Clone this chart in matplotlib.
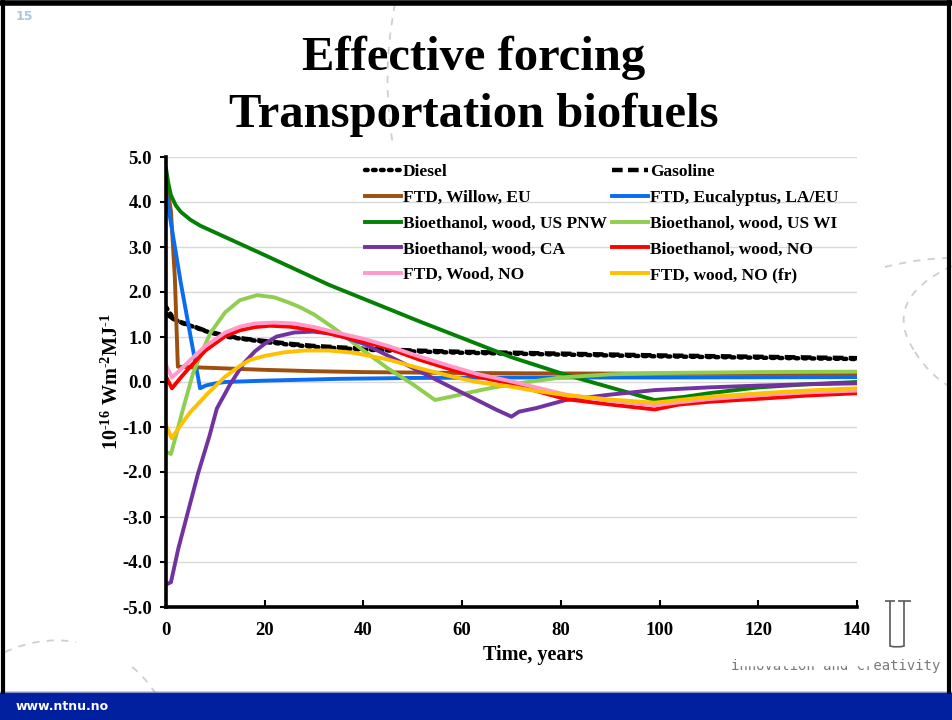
import matplotlib
matplotlib.use("Agg")
import matplotlib.pyplot as plt
from matplotlib.path import Path
from matplotlib.patches import PathPatch, Rectangle

plt.rcParams['font.family'] = ['Liberation Serif', 'DejaVu Serif']
plt.rcParams['mathtext.fontset'] = 'custom'
plt.rcParams['mathtext.rm'] = 'Liberation Serif:bold'
plt.rcParams['mathtext.bf'] = 'Liberation Serif:bold'
plt.rcParams['mathtext.it'] = 'Liberation Serif:bold'

# ---- data: effective forcing (10^-16 W m^-2 per MJ) versus time in years ----
diesel_t = [0, 1.5, 3, 5.5, 8, 12, 16, 20, 25, 30, 35, 40, 50, 60, 70, 80, 90, 100, 110, 120, 130, 140]
diesel_v = [1.67, 1.41, 1.32, 1.23, 1.13, 1.01, 0.95, 0.89, 0.83, 0.78, 0.75, 0.72, 0.68, 0.65,
            0.63, 0.61, 0.59, 0.57, 0.555, 0.54, 0.525, 0.51]

gasoline_t = [0, 1.5, 3, 5.5, 8, 12, 16, 20, 25, 30, 35, 40, 50, 60, 70, 80, 90, 100, 110, 120, 130, 140]
gasoline_v = [1.52, 1.40, 1.33, 1.24, 1.14, 1.03, 0.96, 0.91, 0.85, 0.80, 0.77, 0.74, 0.70, 0.67,
              0.65, 0.63, 0.61, 0.59, 0.575, 0.56, 0.545, 0.53]

willow_t = [0, 1, 1.8, 2.4, 5, 10, 20, 30, 40, 60, 80, 100, 120, 140]
willow_v = [4.5, 3.8, 2.3, 0.34, 0.33, 0.31, 0.27, 0.24, 0.22, 0.20, 0.19, 0.185, 0.18, 0.18]

eucal_t = [0, 3, 6.9, 8, 10, 12, 20, 35, 50, 70, 100, 140]
eucal_v = [4.2, 2.2, -0.14, -0.08, -0.03, 0.0, 0.03, 0.07, 0.09, 0.10, 0.10, 0.11]

pnw_t = [0, 0.5, 1, 2, 3, 5, 7, 10, 20, 33, 51.5, 70, 81, 99, 105, 110, 120, 130, 140]
pnw_v = [4.75, 4.4, 4.15, 3.92, 3.78, 3.6, 3.47, 3.32, 2.82, 2.16, 1.34, 0.55, 0.16, -0.40,
         -0.33, -0.25, -0.12, -0.05, 0.0]

wi_t = [0, 1, 2, 3.5, 5.5, 7, 9, 12, 15, 18.5, 22, 25, 27, 30, 34, 40, 45, 50, 54.5,
        58, 62, 66, 70, 80, 90, 100, 120, 140]
wi_v = [-1.55, -1.6, -1.2, -0.58, 0.2, 0.6, 1.09, 1.55, 1.82, 1.93, 1.88, 1.76, 1.67, 1.5,
        1.2, 0.7, 0.3, -0.05, -0.40, -0.32, -0.22, -0.13, -0.05, 0.1, 0.17, 0.2, 0.22, 0.23]

ca_t = [0, 1, 2.5, 4.2, 6.5, 8.8, 10.3, 13, 15.7, 18, 20, 22.4, 26, 29.8, 33, 36, 40, 43.4,
        48, 53.5, 58, 63, 67, 70, 71.5, 75, 81, 90, 99, 110, 120, 130, 140]
ca_v = [-4.5, -4.45, -3.7, -2.99, -2.03, -1.2, -0.59, -0.05, 0.41, 0.68, 0.85, 1.01, 1.1, 1.12,
        1.08, 1.0, 0.85, 0.67, 0.42, 0.12, -0.13, -0.4, -0.62, -0.77, -0.66, -0.58, -0.40,
        -0.28, -0.18, -0.12, -0.08, -0.05, -0.03]

no_t = [0, 1.2, 3, 5, 8, 12, 15, 18, 21, 25, 30, 33, 40, 45, 51.5, 58, 63, 69.7, 75, 81,
        90, 99, 104, 110, 122, 130, 140]
no_v = [0.12, -0.14, 0.1, 0.35, 0.7, 1.02, 1.15, 1.22, 1.25, 1.23, 1.15, 1.08, 0.9, 0.75,
        0.49, 0.27, 0.12, -0.03, -0.2, -0.38, -0.5, -0.61, -0.5, -0.44, -0.36, -0.3, -0.25]

wood_t = [0, 1.2, 3, 5, 8, 12, 15, 18, 22, 26, 30, 33, 40, 45, 51.5, 58, 63, 69.7, 75, 81,
          90, 99, 104, 110, 122, 130, 140]
wood_v = [0.38, 0.1, 0.28, 0.5, 0.8, 1.1, 1.23, 1.3, 1.32, 1.3, 1.22, 1.14, 0.96, 0.8, 0.56,
          0.34, 0.18, 0.02, -0.12, -0.28, -0.42, -0.52, -0.45, -0.38, -0.28, -0.23, -0.19]

fr_t = [0, 1.15, 3, 5, 8.5, 12, 15, 17, 20, 24, 28, 33, 38, 45, 51.5, 58, 63, 69.7, 75, 81,
        90, 99, 104, 110, 122, 130, 140]
fr_v = [-0.96, -1.25, -0.95, -0.66, -0.25, 0.12, 0.36, 0.49, 0.58, 0.66, 0.7, 0.7, 0.65, 0.5,
        0.3, 0.12, 0.0, -0.1, -0.2, -0.29, -0.39, -0.46, -0.4, -0.33, -0.24, -0.19, -0.14]

y_ticks = [-5, -4, -3, -2, -1, 0, 1, 2, 3, 4, 5]
x_ticks = [0, 20, 40, 60, 80, 100, 120, 140]

W, H = 952, 720
fig = plt.figure(figsize=(W / 100, H / 100), dpi=100)

# ---- slide background layer (pixel coordinates) ----
bg = fig.add_axes([0, 0, 1, 1], zorder=0)
bg.set_xlim(0, W)
bg.set_ylim(H, 0)
bg.axis('off')

dash_kw = dict(color='#cfcfcf', lw=1.3, ls=(0, (4, 4)))


def curve(ax, pts, **kw):
    codes = [Path.MOVETO] + [Path.CURVE3] * (len(pts) - 1)
    ax.add_patch(PathPatch(Path(pts, codes), fill=False, **kw))


curve(bg, [(395, 4), (381, 75), (393, 145)], **dash_kw)
curve(bg, [(885, 267), (920, 258), (952, 258)], **dash_kw)
curve(bg, [(952, 266), (880, 300), (915, 352)], **dash_kw)
curve(bg, [(915, 352), (930, 376), (952, 388)], **dash_kw)
curve(bg, [(5, 652), (40, 636), (76, 642)], **dash_kw)
curve(bg, [(132, 667), (150, 680), (172, 720)], **dash_kw)

# bottom bar
bg.add_patch(Rectangle((0, 692), W, 28, color='#00209f', zorder=1))
bg.plot([0, W], [691.5, 691.5], color='#8090c8', lw=0.8, zorder=1)
bg.text(16, 706, 'www.ntnu.no', color='white', fontsize=9, fontweight='bold',
        family='DejaVu Sans', va='center', ha='left', zorder=2)

# page number
bg.text(24, 16, '15', color='#a9c7e0', fontsize=9, fontweight='bold',
        family='DejaVu Sans', va='center', ha='center')

# logo mark and tagline
bg.text(940, 666, 'innovation and creativity', color='#7a7a7a', fontsize=10,
        family='DejaVu Sans Mono', va='center', ha='right', zorder=1)
bg.add_patch(Rectangle((740, 600), 132, 64.5, color='white', zorder=1.5))
u_path = Path([(885, 601), (895, 601), (890, 601), (890, 646), (897, 648), (904, 646),
               (904, 601), (898, 601), (911, 601)],
              [Path.MOVETO, Path.LINETO, Path.MOVETO, Path.LINETO, Path.CURVE3, Path.CURVE3,
               Path.LINETO, Path.MOVETO, Path.LINETO])
bg.add_patch(PathPatch(u_path, fill=False, color='#5a5a5a', lw=1.2, zorder=2))

# slide frame
bg.plot([3, 3], [2, 692], color='black', lw=3, zorder=3)
bg.plot([949, 949], [2, 692], color='black', lw=3, zorder=3)
bg.plot([2, 950], [2.5, 2.5], color='black', lw=4, zorder=3)

# title
fig.text(0.498, 1 - 58 / H, 'Effective forcing', ha='center', va='center',
         fontsize=35, fontweight='bold')
fig.text(0.498, 1 - 115 / H, 'Transportation biofuels', ha='center', va='center',
         fontsize=35, fontweight='bold')

# ---- chart ----
ax = fig.add_axes([166 / W, 1 - 607 / H, (857 - 166) / W, (607 - 157) / H], zorder=2)
ax.patch.set_alpha(0)

lw = 2.8
h_diesel, = ax.plot(diesel_t, diesel_v, color='black', lw=3.2, ls=(0, (0.6, 1.2)),
                    dash_capstyle='round', label='Diesel')
h_gas, = ax.plot(gasoline_t, gasoline_v, color='black', lw=3.2, ls=(0, (2.4, 1.2)),
                 label='Gasoline')
h_willow, = ax.plot(willow_t, willow_v, color='#9c4f0e', lw=lw, label='FTD, Willow, EU')
h_eucal, = ax.plot(eucal_t, eucal_v, color='#0a6cf0', lw=lw, label='FTD, Eucalyptus, LA/EU')
h_pnw, = ax.plot(pnw_t, pnw_v, color='#048004', lw=lw, label='Bioethanol, wood, US PNW')
h_wi, = ax.plot(wi_t, wi_v, color='#8fce50', lw=lw, label='Bioethanol, wood, US WI')
h_ca, = ax.plot(ca_t, ca_v, color='#7232a0', lw=lw, label='Bioethanol, wood, CA')
h_no, = ax.plot(no_t, no_v, color='#ff0000', lw=lw, label='Bioethanol, wood, NO')
h_wood, = ax.plot(wood_t, wood_v, color='#ff99cc', lw=lw, label='FTD, Wood, NO')
h_fr, = ax.plot(fr_t, fr_v, color='#ffc000', lw=lw, label='FTD, wood, NO (fr)')

ax.set_xlim(0, 140)
ax.set_ylim(-5, 5)
ax.set_xticks(x_ticks)
ax.set_yticks(y_ticks)
ax.set_yticklabels([f'{v:.1f}' for v in y_ticks])
ax.set_xticklabels([str(v) for v in x_ticks])
ax.grid(axis='y', color='#d9d9d9', lw=1.0)
ax.set_axisbelow(True)
for s in ('top', 'right'):
    ax.spines[s].set_visible(False)
for s in ('left', 'bottom'):
    ax.spines[s].set_linewidth(2.6)
    ax.spines[s].set_color('black')
ax.tick_params(axis='x', direction='in', length=5, width=1.5, pad=11, labelsize=13.5)
ax.tick_params(axis='y', direction='out', length=4, width=1.5, pad=6, labelsize=13.5)
for lab in ax.get_xticklabels() + ax.get_yticklabels():
    lab.set_fontweight('bold')

ax.set_xlabel('Time, years', fontsize=14.5, fontweight='bold', labelpad=5)
ax.xaxis.set_label_coords((533 - 166) / (857 - 166), -0.085)
ax.set_ylabel('$\\mathbf{10^{\u201016}\\ Wm^{\u20102}MJ^{\u20101}}$', fontsize=14.5)
ax.yaxis.set_label_coords(-(166 - 123) / (857 - 166), 0.5)

handles = [h_diesel, h_willow, h_pnw, h_ca, h_wood, h_gas, h_eucal, h_wi, h_no, h_fr]
leg = ax.legend(handles=handles, ncol=2, loc='upper left', bbox_to_anchor=(0.288, 0.984),
                frameon=False, handlelength=2.1, handletextpad=0.1,
                columnspacing=0.25, labelspacing=0.55, borderpad=0, borderaxespad=0,
                prop={'weight': 'bold', 'size': 12.5})

fig.savefig('out.png', dpi=100)
